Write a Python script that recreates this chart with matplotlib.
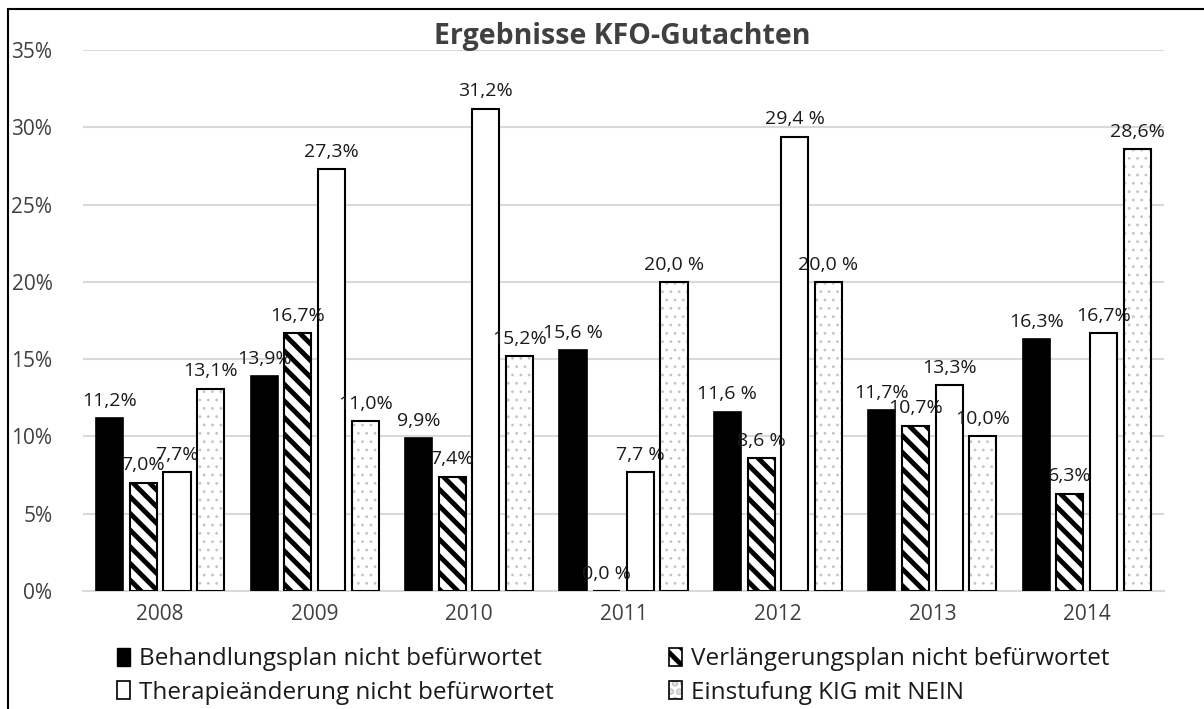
import matplotlib.pyplot as plt
import numpy as np
from matplotlib.patches import Patch, Rectangle

plt.rcParams['font.family'] = ['Open Sans', 'DejaVu Sans']
plt.rcParams['hatch.linewidth'] = 3.5

years = ['2008', '2009', '2010', '2011', '2012', '2013', '2014']
series_names = ['Behandlungsplan nicht befürwortet',
                'Verlängerungsplan nicht befürwortet',
                'Therapieänderung nicht befürwortet',
                'Einstufung KIG mit NEIN']

behandlung = [11.2, 13.9, 9.9, 15.6, 11.6, 11.7, 16.3]
verlaengerung = [7.0, 16.7, 7.4, 0.0, 8.6, 10.7, 6.3]
therapie = [7.7, 27.3, 31.2, 7.7, 29.4, 13.3, 16.7]
einstufung = [13.1, 11.0, 15.2, 20.0, 20.0, 10.0, 28.6]

lab_behandlung = ['11,2%', '13,9%', '9,9%', '15,6 %', '11,6 %', '11,7%', '16,3%']
lab_verlaengerung = ['7,0%', '16,7%', '7,4%', '0,0 %', '8,6 %', '10,7%', '6,3%']
lab_therapie = ['7,7%', '27,3%', '31,2%', '7,7 %', '29,4 %', '13,3%', '16,7%']
lab_einstufung = ['13,1%', '11,0%', '15,2%', '20,0 %', '20,0 %', '10,0%', '28,6%']

fig = plt.figure(figsize=(12.04, 7.09), dpi=100)
ax = fig.add_axes([0.0689, 0.1664, 0.8979, 0.7631])

x = np.arange(len(years))
step = 0.218
w = 0.175
offs = (np.arange(4) - 1.5) * step

b1 = ax.bar(x + offs[0], behandlung, w, color='black', edgecolor='black', lw=1.2, zorder=3)
b2 = ax.bar(x + offs[1], verlaengerung, w, color='white', edgecolor='black',
            hatch='\\\\', lw=1.5, zorder=3)
b3 = ax.bar(x + offs[2], therapie, w, color='white', edgecolor='black', lw=1.5, zorder=3)
with plt.rc_context({'hatch.linewidth': 0.8}):
    b4a = ax.bar(x + offs[3], einstufung, w, color='white', edgecolor='#c4c4c4',
                 hatch='..', lw=0, zorder=3)
    dot_handle = Patch(facecolor='white', edgecolor='#c4c4c4', hatch='..', lw=0)
b4 = ax.bar(x + offs[3], einstufung, w, fill=False, edgecolor='black', lw=1.5, zorder=4)

for bars, labs in [(b1, lab_behandlung), (b2, lab_verlaengerung),
                   (b3, lab_therapie), (b4, lab_einstufung)]:
    ax.bar_label(bars, labels=labs, padding=6, fontsize=14, color='#1a1a1a')

ax.set_ylim(0, 35)
ax.set_xlim(-0.5, len(years) - 0.5)
ax.set_yticks(np.arange(0, 36, 5))
ax.set_yticklabels([f'{v}%' for v in range(0, 36, 5)])
ax.set_xticks(x)
ax.set_xticklabels(years)
ax.tick_params(length=0, labelsize=15, colors='#404040')
ax.tick_params(axis='y', pad=22)
ax.tick_params(axis='x', pad=9)
ax.grid(axis='y', color='#d9d9d9', lw=1.5, zorder=0)
for s in ['left', 'right', 'top']:
    ax.spines[s].set_visible(False)
ax.spines['bottom'].set_color('#d9d9d9')
ax.spines['bottom'].set_linewidth(1.5)

fig.text(0.517, 0.948, 'Ergebnisse KFO-Gutachten', ha='center', va='center',
         fontsize=20.5, fontweight='bold', color='#404040')

h1 = Patch(facecolor='black', edgecolor='black')
h2 = Patch(facecolor='white', edgecolor='black', hatch='\\\\', lw=1.2)
h3 = Patch(facecolor='white', edgecolor='black', lw=1.2)
h4 = (dot_handle, Patch(fill=False, edgecolor='black', lw=1.2))
fig.legend([h1, h3, h2, h4],
           [series_names[0], series_names[2], series_names[1], series_names[3]],
           ncol=2, loc='upper left', bbox_to_anchor=(0.097, 0.087),
           frameon=False, fontsize=17.5, handlelength=0.55, handleheight=0.8,
           handletextpad=0.35, columnspacing=4.75, labelspacing=0.38,
           labelcolor='#1a1a1a', borderaxespad=0, borderpad=0)

fig.add_artist(Rectangle((0.007, -0.02), 1.05, 1.008, transform=fig.transFigure,
                         fill=False, edgecolor='black', lw=1.5))

fig.savefig('out.png', dpi=100)
